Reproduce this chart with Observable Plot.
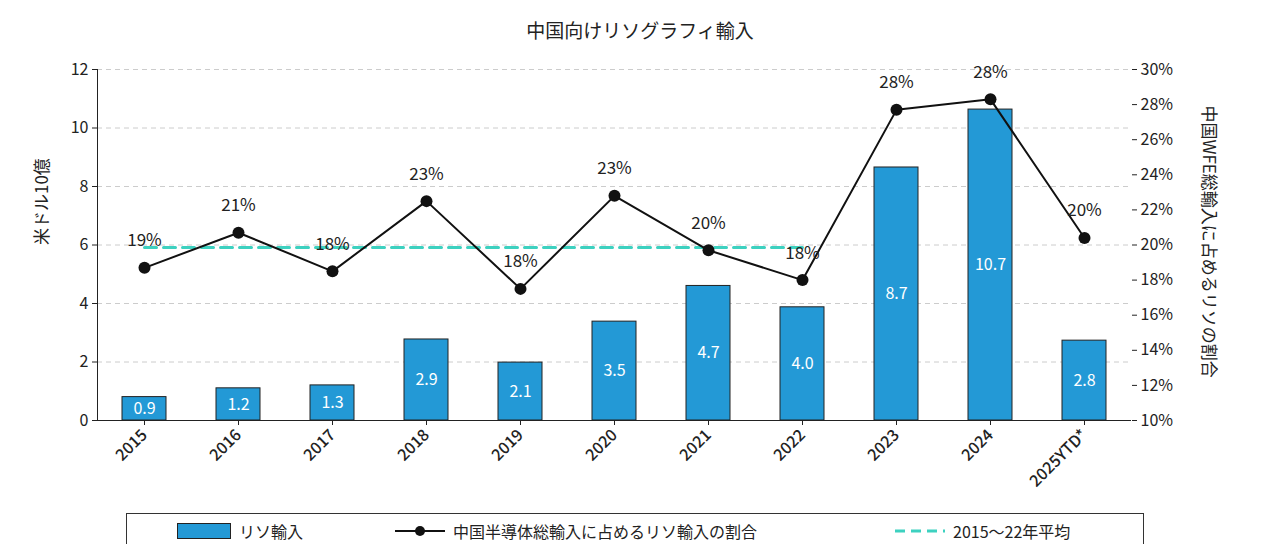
<!DOCTYPE html>
<html><head><meta charset="utf-8">
<script src="https://cdn.jsdelivr.net/npm/d3@7"></script>
<script src="https://cdn.jsdelivr.net/npm/@observablehq/plot@0.6"></script>
<style>
body{margin:0;background:#fff;font-family:"Noto Sans CJK JP","Noto Sans",sans-serif;width:1280px;height:544px;overflow:hidden;position:relative}
#title{height:50px;line-height:60px;text-align:center;font-size:19px;color:#222}
#chart svg{overflow:visible}
#legend{position:absolute;left:126px;top:513px;width:1018px;height:40px;border:1.5px solid #333;box-sizing:border-box;font-size:16px;color:#222;background:#fff}
.it{position:absolute;top:5px;display:flex;align-items:center;gap:8px}
</style></head><body>
<div id="title">中国向けリソグラフィ輸入</div>
<div id="chart"></div>
<div id="legend">
 <div class="it" style="left:50px"><span style="display:inline-block;width:52px;height:14px;background:#2399d6;border:1px solid #222"></span>リソ輸入</div>
 <div class="it" style="left:268px"><svg width="50" height="14"><line x1="0" y1="7" x2="50" y2="7" stroke="#111" stroke-width="2"/><circle cx="25" cy="7" r="5" fill="#111"/></svg>中国半導体総輸入に占めるリソ輸入の割合</div>
 <div class="it" style="left:768px"><svg width="50" height="14"><line x1="0" y1="7" x2="50" y2="7" stroke="#3dd1c0" stroke-width="3" stroke-dasharray="10,6"/></svg>2015～22年平均</div>
</div>
<script>
const years = ["2015","2016","2017","2018","2019","2020","2021","2022","2023","2024","2025YTD*"];
const imports = [0.8,1.1,1.2,2.77,1.98,3.38,4.6,3.87,8.65,10.63,2.73];
const importLabels = ["0.9","1.2","1.3","2.9","2.1","3.5","4.7","4.0","8.7","10.7","2.8"];
const share = [18.7,20.7,18.5,22.5,17.5,22.8,19.7,18.0,27.7,28.3,20.4];
const shareLabels = ["19%","21%","18%","23%","18%","23%","20%","18%","28%","28%","20%"];
const avgShare = 19.86;
const avgYears = years.slice(0,8);

const toL = p => (p-10)*12/20;
const bars = years.map((y,i)=>({y, v:imports[i], lab:importLabels[i]}));
const pts = years.map((y,i)=>({y, v:toL(share[i]), lab:shareLabels[i]}));
const avg = avgYears.map(y=>({y, v:toL(avgShare)}));

const chart = Plot.plot({
  width:1280, height:494, marginTop:19, marginBottom:124, marginLeft:97, marginRight:149,
  style:{fontFamily:"Noto Sans CJK JP, Noto Sans, sans-serif", fontSize:"16px", color:"#222", overflow:"visible"},
  x:{domain:years, paddingInner:0.53, paddingOuter:0.265, label:null},
  y:{domain:[0,12], label:null},
  marks:[
    Plot.gridY([2,4,6,8,10,12],{stroke:"#ccc", strokeDasharray:"5,4", strokeOpacity:1}),
    Plot.axisY([0,2,4,6,8,10,12],{anchor:"left", label:null, tickSize:5, fontSize:16}),
    Plot.axisY(d3.range(0,12.01,1.2),{anchor:"right", label:null, tickSize:5, fontSize:16, tickFormat:d=>Math.round(d*20/12+10)+"%"}),
    Plot.axisX({tickRotate:-45, tickSize:5, fontSize:16, fontWeight:500, label:null}),
    Plot.barY(bars,{x:"y", y:"v", fill:"#2399d6", stroke:"#222", strokeWidth:1}),
    Plot.text(bars,{x:"y", y:d=>d.v/2, text:"lab", fill:"white", fontSize:16}),
    Plot.line(avg,{x:"y", y:"v", stroke:"#3dd1c0", strokeWidth:3, strokeDasharray:"12,7"}),
    Plot.line(pts,{x:"y", y:"v", stroke:"#111", strokeWidth:2}),
    Plot.dot(pts,{x:"y", y:"v", r:6, fill:"#111"}),
    Plot.text(pts,{x:"y", y:"v", text:"lab", dy:-27, fontSize:17}),
    Plot.ruleY([0],{stroke:"#222"}),
    Plot.ruleX([years[0]],{stroke:"#222", dx:-47}),
    Plot.text(["米ドル10億"],{frameAnchor:"left", dx:-55, rotate:-90, fontSize:17}),
    Plot.text(["中国WFE総輸入に占めるリソの割合"],{frameAnchor:"top-right", dx:84, dy:36, textAnchor:"start", rotate:90, fontSize:17})
  ]
});
document.getElementById("chart").append(chart);
</script></body></html>
